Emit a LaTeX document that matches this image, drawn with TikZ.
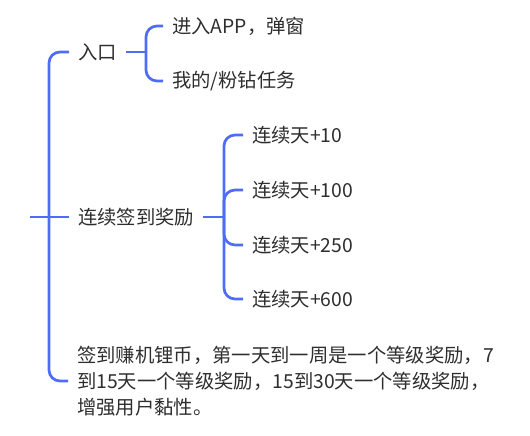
\documentclass[tikz,border=0pt]{standalone}
\usepackage{fontspec}
\setmainfont{Noto Sans CJK SC}
\definecolor{linkblue}{HTML}{4E6CF8}
\definecolor{txtgray}{HTML}{2E2E2E}
\begin{document}
\begin{tikzpicture}[x=1bp,y=-1bp,
  lbl/.style={anchor=west,inner xsep=9bp,inner ysep=2bp,text=txtgray,font=\fontsize{19.4}{26}\selectfont},
  conn/.style={draw=linkblue,line width=2.7bp,rounded corners=11bp}]
\useasboundingbox (0,0) rectangle (530,436);
% nodes
\node[lbl] (entry) at (69,52) {入口};
\node[lbl] (app) at (163,26) {进入APP，弹窗};
\node[lbl] (mine) at (163,81) {我的/粉钻任务};
\node[lbl] (sign) at (69,217) {连续签到奖励};
\node[lbl] (d10) at (243,135) {连续天+10};
\node[lbl] (d100) at (243,190) {连续天+100};
\node[lbl] (d250) at (243,245) {连续天+250};
\node[lbl] (d600) at (243,299) {连续天+600};
\node[lbl,align=left] (desc) at (68,381) {签到赚机锂币，第一天到一周是一个等级奖励，7\\到15天一个等级奖励，15到30天一个等级奖励，\\增强用户黏性。};
% coordinates
\coordinate (root) at (30,217);
\coordinate (spine) at (49,217);
\coordinate (fork1) at (146,52);
\coordinate (fork2) at (224,217);
% connectors
\draw[conn] (root) -- (sign.west);
\draw[conn] (entry.west) -| (spine) |- (desc.west);
\draw[conn] (entry.east) -- (fork1);
\draw[conn] (fork1) |- (app.west);
\draw[conn] (fork1) |- (mine.west);
\draw[conn] (sign.east) -- (fork2);
\draw[conn] (fork2) |- (d10.west);
\draw[conn] (fork2) |- (d100.west);
\draw[conn] (fork2) |- (d250.west);
\draw[conn] (fork2) |- (d600.west);
\end{tikzpicture}
\end{document}
